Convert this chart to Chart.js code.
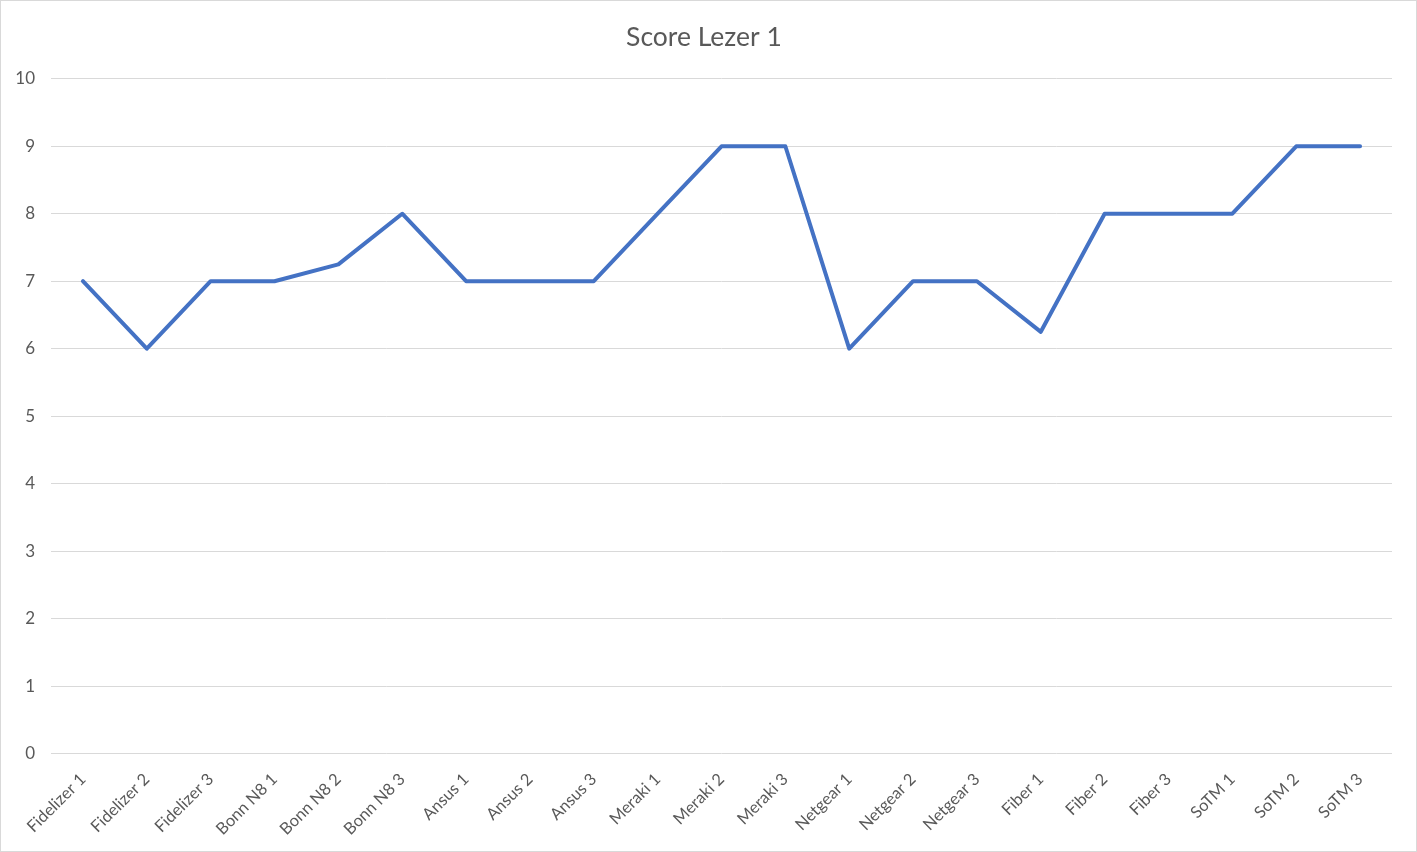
<!DOCTYPE html>
<html>
<head>
<meta charset="utf-8">
<script src="https://cdn.jsdelivr.net/npm/chart.js@4/dist/chart.umd.min.js"></script>
<style>
  html, body { margin: 0; padding: 0; background: #fff; }
  #wrap { width: 1417px; height: 852px; box-sizing: border-box; border: 1px solid #d9d9d9; position: relative; }
</style>
</head>
<body>
<div id="wrap"><canvas id="scoreChart"></canvas></div>
<script>
const categories = ['Fidelizer 1', 'Fidelizer 2', 'Fidelizer 3', 'Bonn N8 1', 'Bonn N8 2', 'Bonn N8 3',
    'Ansus 1', 'Ansus 2', 'Ansus 3', 'Meraki 1', 'Meraki 2', 'Meraki 3',
    'Netgear 1', 'Netgear 2', 'Netgear 3', 'Fiber 1', 'Fiber 2', 'Fiber 3',
    'SoTM 1', 'SoTM 2', 'SoTM 3'];
const scores = [7, 6, 7, 7, 7.25, 8, 7, 7, 7, 8, 9, 9, 6, 7, 7, 6.25, 8, 8, 8, 9, 9];
const yTicks = [0, 1, 2, 3, 4, 5, 6, 7, 8, 9, 10];

const textColor = '#595959';
const fontFamily = 'Lato, "Open Sans", sans-serif';

// Grafiek Score Lezer 1
const ctx = document.getElementById('scoreChart').getContext('2d');
const scoreChart = new Chart(ctx, {
    type: 'line',
    data: {
        labels: categories,
        datasets: [{
            label: 'Score Lezer 1',
            data: scores,
            borderColor: '#4472C4',
            borderWidth: 4,
            borderJoinStyle: 'round',
            borderCapStyle: 'round',
            pointRadius: 0,
            fill: false,
            tension: 0
        }]
    },
    options: {
        responsive: true,
        maintainAspectRatio: false,
        animation: false,
        layout: {
            padding: { left: 15, right: 24, top: 12, bottom: 4 }
        },
        plugins: {
            legend: { display: false },
            tooltip: { enabled: false },
            title: {
                display: true,
                text: 'Score Lezer 1',
                color: textColor,
                font: { family: fontFamily, size: 26.5, weight: 'normal' },
                padding: { top: 9, bottom: 25 }
            }
        },
        scales: {
            x: {
                offset: true,
                grid: { display: false },
                border: { display: false },
                // rotated labels may hang past the plot edge, like the original
                afterFit: (scale) => { scale.paddingLeft = 0; scale.paddingRight = 0; },
                ticks: {
                    color: textColor,
                    font: { family: fontFamily, size: 16.5 },
                    minRotation: 45,
                    maxRotation: 45,
                    padding: 8,
                    autoSkip: false
                }
            },
            y: {
                min: 0,
                max: 10,
                afterBuildTicks: (axis) => { axis.ticks = yTicks.map(v => ({ value: v })); },
                afterFit: (scale) => { scale.width = 35; },
                grid: { color: '#d9d9d9', lineWidth: 1, drawTicks: false },
                border: { display: false },
                ticks: {
                    color: textColor,
                    font: { family: fontFamily, size: 17 },
                    padding: 16
                }
            }
        }
    }
});
</script>
</body>
</html>
